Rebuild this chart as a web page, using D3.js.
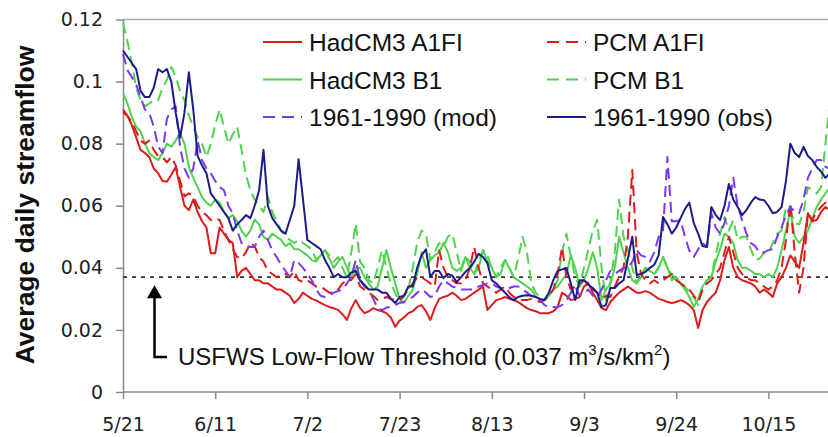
<!DOCTYPE html>
<html><head><meta charset="utf-8">
<script src="https://cdn.jsdelivr.net/npm/d3@7"></script>
<style>html,body{margin:0;padding:0;background:#fff;} svg{display:block}</style>
</head><body>
<svg id="chart" width="828" height="437"></svg>
<script>
// ---- data (daily values starting 5/21) ----
const xTickDays = [0,21,42,63,84,105,126,147];
const xTickLabels = ["5/21","6/11","7/2","7/23","8/13","9/3","9/24","10/15"];
const yTicks = [0,0.02,0.04,0.06,0.08,0.1,0.12];
const yTickLabels = ["0","0.02","0.04","0.06","0.08","0.1","0.12"];
const threshold = 0.037;

const hadcm3A1FI = [
.091,.089,.086,.082,.078,.077,.0757,.072,.0705,.068,
.0677,.070,.0725,.066,.060,.0586,.062,.058,.055,.053,
.0447,.0447,.053,.051,.049,.048,.037,.039,.040,.038,
.036,.036,.035,.035,.034,.033,.033,.032,.031,.0287,
.030,.032,.031,.030,.0295,.0287,.028,.0274,.027,.0264,
.025,.0232,.027,.0296,.027,.0254,.026,.027,.0264,.026,
.0254,.024,.021,.023,.024,.0254,.026,.0274,.028,.026,
.0232,.027,.030,.0306,.031,.032,.031,.0296,.030,.031,
.032,.033,.034,.0264,.028,.0296,.030,.0306,.030,.0296,
.029,.028,.027,.0264,.026,.0254,.0254,.0254,.026,.0274,
.032,.031,.0296,.030,.0306,.034,.035,.032,.0296,.027,
.0264,.029,.0306,.032,.033,.034,.033,.032,.032,.0325,
.032,.031,.030,.0296,.029,.0287,.029,.0296,.029,.028,
.0264,.0206,.0264,.029,.0306,.032,.036,.0425,.0467,.040,
.037,.036,.0355,.035,.034,.032,.033,.032,.0306,.035,
.037,.040,.044,.042,.040,.048,.0576,.055,.0554,.058,
.0596,.0586,.058];

const pcmA1FI = [
.090,.089,.087,.084,.081,.080,.081,.078,.076,.0757,
.074,.0757,.073,.068,.063,.064,.063,.060,.058,.057,
.0554,.056,.0554,.052,.049,.046,.0435,.043,.045,.048,
.047,.0435,.042,.039,.038,.037,.0377,.038,.037,.039,
.036,.0355,.036,.035,.034,.034,.033,.032,.032,.033,
.035,.036,.036,.038,.034,.033,.032,.031,.0296,.030,
.0306,.030,.0296,.0296,.031,.033,.035,.037,.037,.036,
.035,.034,.0457,.040,.037,.036,.035,.035,.036,.040,
.0467,.040,.035,.034,.033,.032,.033,.034,.032,.0306,
.030,.0296,.0296,.030,.0296,.029,.0296,.031,.033,.038,
.0467,.037,.033,.034,.035,.036,.035,.033,.032,.030,
.031,.0306,.034,.037,.040,.050,.0715,.045,.038,.036,
.035,.036,.035,.036,.037,.038,.036,.035,.034,.033,
.031,.029,.033,.035,.036,.038,.040,.045,.050,.045,
.040,.038,.037,.036,.036,.035,.034,.033,.034,.036,
.040,.049,.061,.0447,.032,.040,.0576,.0554,.058,.0596,
.061,.062,.062];

const hadcm3B1 = [
.0963,.093,.0886,.0855,.084,.080,.077,.0757,.0747,.077,
.080,.079,.081,.0834,.080,.0725,.069,.066,.0628,.061,
.060,.062,.061,.058,.056,.057,.055,.052,.050,.052,
.0555,.054,.050,.049,.051,.050,.049,.047,.048,.046,
.046,.045,.044,.0425,.042,.044,.0457,.043,.040,.042,
.0435,.040,.037,.040,.040,.037,.035,.033,.034,.040,
.0457,.040,.035,.030,.0287,.031,.033,.038,.045,.040,
.0425,.044,.045,.048,.045,.040,.039,.040,.0435,.040,
.038,.040,.0457,.042,.040,.037,.038,.0425,.040,.037,
.036,.035,.034,.033,.0306,.030,.0296,.031,.033,.034,
.036,.038,.044,.040,.034,.036,.040,.045,.040,.0296,
.033,.035,.040,.050,.045,.040,.036,.035,.037,.040,
.039,.038,.040,.0435,.040,.036,.037,.035,.033,.0306,
.0274,.030,.034,.036,.037,.042,.046,.051,.050,.048,
.0425,.040,.040,.039,.038,.038,.037,.038,.037,.040,
.0457,.052,.0586,.050,.048,.050,.052,.056,.0596,.062,
.064,.066,.068];

const pcmB1 = [
.119,.113,.106,.098,.094,.092,.093,.094,.094,.098,
.1005,.1047,.1015,.097,.094,.089,.0855,.082,.080,.0757,
.080,.086,.091,.0855,.080,.083,.0855,.078,.070,.065,
.062,.060,.058,.063,.058,.055,.052,.050,.049,.048,
.049,.048,.047,.046,.0425,.044,.0457,.044,.042,.0435,
.040,.037,.045,.0543,.042,.040,.036,.035,.040,.0457,
.040,.035,.032,.0287,.031,.033,.040,.048,.052,.051,
.0425,.045,.048,.047,.050,.051,.045,.039,.0435,.042,
.038,.042,.0457,.044,.040,.037,.040,.0425,.040,.037,
.043,.050,.045,.035,.032,.0306,.030,.031,.033,.036,
.045,.051,.0435,.037,.034,.040,.046,.052,.0554,.040,
.0296,.035,.045,.062,.050,.0457,.040,.035,.038,.040,
.039,.038,.040,.0435,.040,.038,.036,.035,.034,.032,
.0306,.028,.034,.036,.037,.044,.051,.0564,.052,.0554,
.049,.050,.050,.046,.0425,.043,.0447,.045,.048,.051,
.052,.0596,.0586,.0544,.054,.058,.066,.065,.064,.066,
.080,.094,.090];

const mod6190 = [
.109,.1037,.1015,.099,.095,.091,.0898,.0855,.079,.077,
.088,.091,.092,.079,.072,.069,.072,.081,.0747,.072,
.0705,.068,.066,.065,.060,.0576,.052,.048,.0475,.0467,
.0467,.050,.052,.049,.0455,.0435,.041,.039,.037,.0425,
.0415,.040,.038,.036,.033,.031,.0306,.031,.032,.0325,
.033,.035,.037,.0425,.036,.034,.033,.030,.027,.0264,
.0272,.0274,.028,.0287,.029,.030,.0306,.032,.033,.032,
.0306,.031,.034,.036,.035,.034,.0335,.033,.033,.033,
.033,.034,.0345,.035,.035,.034,.0335,.033,.0335,.034,
.034,.033,.032,.031,.030,.0296,.028,.0274,.0274,.0274,
.028,.0296,.032,.034,.031,.032,.033,.031,.0306,.033,
.036,.039,.038,.039,.040,.040,.042,.0457,.044,.0435,
.042,.045,.050,.052,.0757,.055,.055,.0554,.050,.0455,
.0435,.046,.048,.0467,.0576,.053,.051,.0544,.060,.069,
.060,.0554,.051,.048,.047,.0447,.045,.0457,.046,.050,
.053,.057,.0596,.058,.0576,.062,.069,.072,.0747,.0747,
.0725,.072,.072];

const obs6190 = [
.110,.108,.106,.104,.097,.095,.095,.098,.104,.103,
.104,.100,.090,.082,.090,.103,.091,.076,.073,.0705,
.064,.062,.060,.058,.056,.052,.054,.0554,.057,.056,
.060,.065,.078,.060,.056,.054,.052,.051,.0554,.060,
.075,.062,.049,.048,.047,.046,.0425,.040,.037,.038,
.037,.037,.0385,.039,.036,.0345,.033,.033,.033,.032,
.032,.030,.0287,.0306,.031,.034,.034,.040,.044,.046,
.037,.039,.039,.0367,.038,.0375,.0354,.037,.0387,.040,
.042,.0445,.0435,.0415,.036,.035,.0335,.032,.0305,.0296,
.0306,.031,.0312,.031,.0306,.030,.0296,.032,.036,.039,
.0395,.040,.035,.0296,.036,.036,.0345,.0335,.032,.0274,
.028,.0335,.0335,.035,.036,.043,.050,.0377,.038,.0387,
.040,.041,.044,.0564,.054,.051,.053,.056,.059,.061,
.0544,.051,.047,.0467,.0596,.057,.0554,.060,.067,.062,
.0596,.057,.0586,.061,.0628,.062,.0618,.060,.0576,.058,
.0596,.068,.080,.077,.0757,.079,.076,.0747,.0725,.071,
.069,.0705,.070];

const seriesNames  = ["HadCM3 A1FI","PCM A1FI","HadCM3 B1","PCM B1","1961-1990 (mod)","1961-1990 (obs)"];
const seriesValues = [hadcm3A1FI, pcmA1FI, hadcm3B1, pcmB1, mod6190, obs6190];
const seriesColors = ["#dc1c1c","#dc1c1c","#4fd34f","#4fd34f","#7a38f0","#1b1b8a"];
const seriesDashed = [false,true,false,true,true,false];
const drawOrder = [2,3,0,1,4,5];

// ---- layout ----
const svg = d3.select("#chart");
const x = d3.scaleLinear().domain([0,147]).range([123,768.4]);
const y = d3.scaleLinear().domain([0,0.12]).range([392,19.5]);

// top border
svg.append("line").attr("x1",123).attr("x2",828).attr("y1",19.5).attr("y2",19.5)
  .attr("stroke","#aaa").attr("stroke-width",1.5);

// axes
const yAxis = d3.axisLeft(y).tickValues(yTicks).tickFormat((d,i)=>yTickLabels[i])
  .tickSize(7).tickSizeOuter(0).tickPadding(13);
const gy = svg.append("g").attr("transform","translate(123,0)").call(yAxis);
const xAxis = d3.axisBottom(x).tickValues(xTickDays).tickFormat((d,i)=>xTickLabels[i])
  .tickSize(7).tickSizeOuter(0).tickPadding(19);
const gx = svg.append("g").attr("transform","translate(0,392)").call(xAxis);
gx.select(".domain").attr("d","M123,0H830");
[gx,gy].forEach(g=>{
  g.selectAll("path,line").attr("stroke","#888").attr("stroke-width",1.5);
  g.selectAll("text").attr("font-family","'DejaVu Sans', Verdana, sans-serif")
    .attr("font-size",19).attr("fill","#222");
});

// threshold line
svg.append("line").attr("x1",123).attr("x2",828)
  .attr("y1",y(threshold)).attr("y2",y(threshold))
  .attr("stroke","#333").attr("stroke-width",1.8).attr("stroke-dasharray","4,5");

// series lines
const line = d3.line().x((d,i)=>x(i)).y(d=>y(d));
drawOrder.forEach(k=>{
  svg.append("path").datum(seriesValues[k]).attr("d",line)
    .attr("fill","none").attr("stroke",seriesColors[k]).attr("stroke-width",2)
    .attr("stroke-linejoin","round")
    .attr("stroke-dasharray",seriesDashed[k] ? "11,6" : null);
});

// threshold annotation arrow
const ax = 154.5;
svg.append("path").attr("d",`M${ax},${y(threshold)+20}V357H167`)
  .attr("fill","none").attr("stroke","#000").attr("stroke-width",2.5);
svg.append("path").attr("d",`M${ax},${y(threshold)+8}L${ax-7.5},${y(threshold)+21}L${ax+7.5},${y(threshold)+21}Z`)
  .attr("fill","#000");
const t = svg.append("text").attr("x",178).attr("y",365)
  .attr("font-family","'Liberation Sans', Arial, sans-serif").attr("font-size",24).attr("fill","#111");
t.append("tspan").text("USFWS Low-Flow Threshold (0.037 m");
t.append("tspan").attr("font-size",15).attr("dy",-10).text("3");
t.append("tspan").attr("dy",10).text("/s/km");
t.append("tspan").attr("font-size",15).attr("dy",-10).text("2");
t.append("tspan").attr("dy",10).text(")");

// y axis title
svg.append("text").attr("transform","translate(34,205) rotate(-90)")
  .attr("text-anchor","middle").attr("font-family","'Liberation Sans', Arial, sans-serif")
  .attr("font-weight","bold").attr("font-size",26.5).attr("fill","#111")
  .text("Average daily streamflow");

// legend
const legendOrder = [0,1,2,3,4,5];
const colX = [263,547];
const rowY = [42,79.5,117];
legendOrder.forEach((k,i)=>{
  const cx = colX[i%2], cy = rowY[Math.floor(i/2)];
  svg.append("line").attr("x1",cx).attr("x2",cx+39).attr("y1",cy).attr("y2",cy)
    .attr("stroke",seriesColors[k]).attr("stroke-width",2)
    .attr("stroke-dasharray",seriesDashed[k] ? "12,7" : null);
  svg.append("text").attr("x",cx+46).attr("y",cy+9)
    .attr("font-family","'Liberation Sans', Arial, sans-serif").attr("font-size",24.5)
    .attr("fill","#111").text(seriesNames[k]);
});
</script>
</body></html>
